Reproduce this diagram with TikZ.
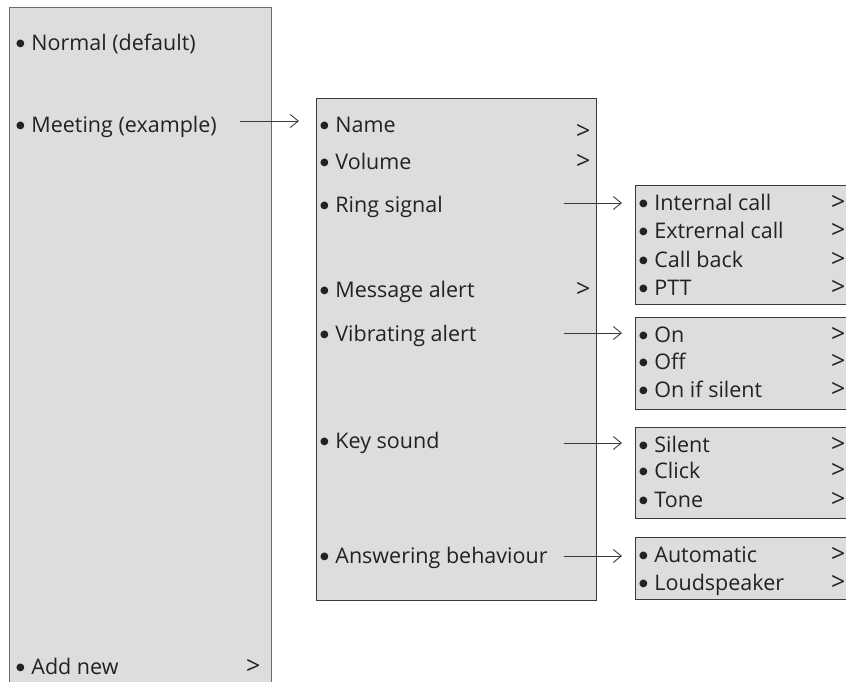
\documentclass[tikz,border=0pt]{standalone}
\usepackage{fontspec}
\setmainfont{Open Sans}
\newfontfamily\bulletfont{DejaVu Sans}
\usepackage{xcolor}
\usepackage{tikz}
\usetikzlibrary{positioning,arrows.meta,calc}
\definecolor{menugray}{HTML}{DCDDDF}
\definecolor{menuline}{HTML}{3A3A3A}
\definecolor{menutext}{HTML}{222222}
\newcommand{\menufont}{\fontsize{21.5}{25}\selectfont}
\newcommand{\menubullet}{\raisebox{4pt}{\bulletfont\fontsize{10}{10}\selectfont ●}\hspace{6.5pt}}

\begin{document}
\begin{tikzpicture}[
   x=1pt, y=-1pt,
   panel/.style={draw=menuline, fill=menugray, line width=0.9pt, inner sep=0pt,
                 anchor=north west},
   item/.style={anchor=base west, inner sep=0pt, text=menutext, font=\menufont},
   more/.style={anchor=base west, inner sep=0pt, text=menutext,
                font=\fontsize{25}{25}\selectfont},
   menuarrow/.style={draw=menuline, line width=0.9pt,
                 -{Straight Barb[length=8pt, width=13pt, line width=0.9pt]}}]
  \useasboundingbox (0,0) rectangle (846,681);
  \clip (0,0) rectangle (846,681);

  % profiles
  \node[panel, draw=menuline!75, minimum width=262pt, minimum height=690pt] (profiles) at (9,7) {};
  \node[item] (normal) at (16,50) {\menubullet Normal (default)};
  \node[item] (meeting) at (16,132) {\menubullet Meeting (example)};
  \node[item] (addnew) at (16,674) {\menubullet Add new};
  \node[more] (addmore) at (246,674) {>};

  % meeting settings
  \node[panel, minimum width=280pt, minimum height=502pt] (settings) at (316,98) {};
  \node[item] (name) at (320,132) {\menubullet Name};
  \node[item] (volume) at (320,169) {\menubullet Volume};
  \node[item] (ring) at (320,212) {\menubullet Ring signal};
  \node[item] (message) at (320,297) {\menubullet Message alert};
  \node[item] (vibrate) at (320,341) {\menubullet Vibrating alert};
  \node[item] (keysound) at (320,448) {\menubullet Key sound};
  \node[item] (answer) at (320,563) {\menubullet Answering behaviour};
  \node[more] (namemore) at (576,139) {>};
  \node[more] (volumemore) at (576,169) {>};
  \node[more] (messagemore) at (576,297) {>};

  % sub menus
  \node[panel, minimum width=230pt, minimum height=119pt] (ringbox) at (635,185) {};
  \node[item] (internal) at (639,210) {\menubullet Internal call};
  \node[item] (external) at (639,238) {\menubullet Extrernal call};
  \node[item] (callback) at (639,267) {\menubullet Call back};
  \node[item] (ptt) at (639,295) {\menubullet PTT};
  \node[more] (internalmore) at (831,210) {>};
  \node[more] (externalmore) at (831,238) {>};
  \node[more] (callbackmore) at (831,267) {>};
  \node[more] (pttmore) at (831,295) {>};

  \node[panel, minimum width=230pt, minimum height=92pt] (vibratebox) at (635,317) {};
  \node[item] (on) at (639,342) {\menubullet On};
  \node[item] (off) at (639,369) {\menubullet Off};
  \node[item] (onsilent) at (639,397) {\menubullet On if silent};
  \node[more] (onmore) at (831,342) {>};
  \node[more] (offmore) at (831,369) {>};
  \node[more] (onsilentmore) at (831,397) {>};

  \node[panel, minimum width=230pt, minimum height=91pt] (keybox) at (635,427) {};
  \node[item] (silent) at (639,452) {\menubullet Silent};
  \node[item] (click) at (639,478) {\menubullet Click};
  \node[item] (tone) at (639,507) {\menubullet Tone};
  \node[more] (silentmore) at (831,452) {>};
  \node[more] (clickmore) at (831,478) {>};
  \node[more] (tonemore) at (831,507) {>};

  \node[panel, minimum width=230pt, minimum height=62pt] (answerbox) at (635,537) {};
  \node[item] (automatic) at (639,562) {\menubullet Automatic};
  \node[item] (loudspeaker) at (639,590) {\menubullet Loudspeaker};
  \node[more] (automaticmore) at (831,562) {>};
  \node[more] (loudspeakermore) at (831,590) {>};

  % arrows
  \coordinate (meetingout) at (240,121);
  \coordinate (ringout) at (564,203);
  \coordinate (vibrateout) at (564,333);
  \coordinate (keyout) at (564,443);
  \coordinate (answerout) at (564,556);
  \draw[menuarrow, shorten >=17pt] (meetingout) -- (meetingout -| settings.west);
  \draw[menuarrow, shorten >=13pt] (ringout) -- (ringout -| ringbox.west);
  \draw[menuarrow, shorten >=13pt] (vibrateout) -- (vibrateout -| vibratebox.west);
  \draw[menuarrow, shorten >=13pt] (keyout) -- (keyout -| keybox.west);
  \draw[menuarrow, shorten >=13pt] (answerout) -- (answerout -| answerbox.west);
\end{tikzpicture}
\end{document}
